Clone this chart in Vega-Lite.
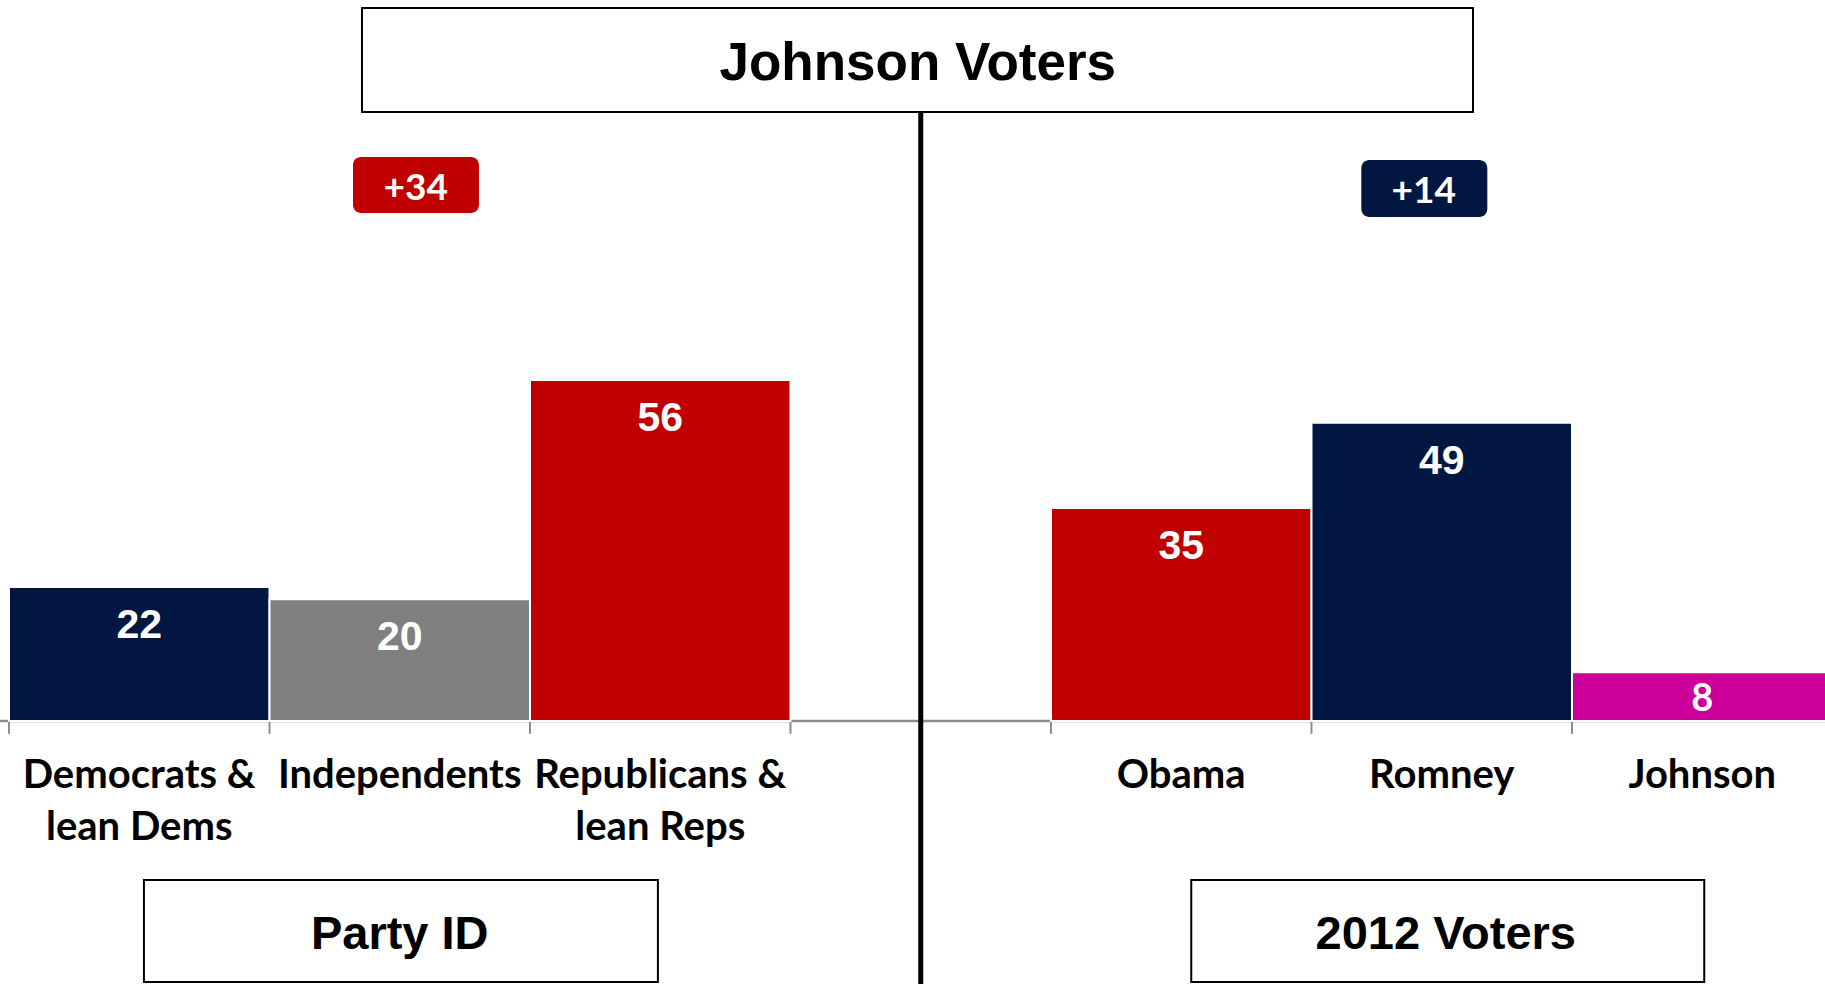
{
  "$schema": "https://vega.github.io/schema/vega-lite/v6.json",
  "width": 1825,
  "height": 984,
  "autosize": {"type": "none"},
  "padding": 0,
  "background": "white",
  "config": {"view": {"stroke": null}},
  "datasets": {
    "bars": [
      {"cat": "Democrats &\nlean Dems", "value": 22},
      {"cat": "Independents", "value": 20},
      {"cat": "Republicans &\nlean Reps", "value": 56},
      {"cat": "Obama", "value": 35},
      {"cat": "Romney", "value": 49},
      {"cat": "Johnson", "value": 8}
    ],
    "one": [{"k": 1}]
  },
  "data": {"name": "bars"},
  "layer": [
    {
      "data": {"name": "one"},
      "mark": {"type": "rule", "color": "#8c8c8c", "strokeWidth": 2.5},
      "encoding": {
        "y": {"datum": 0, "type": "quantitative", "axis": null, "scale": {"domain": [-43.2, 118.43], "nice": false, "zero": false}}
      }
    },
    {
      "mark": {"type": "rule", "color": "#8c8c8c", "strokeWidth": 2},
      "encoding": {
        "x": {"field": "cat", "type": "nominal", "bandPosition": 0, "axis": null, "scale": {"domain": ["Democrats &\nlean Dems", "Independents", "Republicans &\nlean Reps", " ", "Obama", "Romney", "Johnson"], "range": [9, 1832.5], "paddingInner": 0, "paddingOuter": 0}},
        "y": {"datum": 0, "type": "quantitative", "axis": null, "scale": {"domain": [-43.2, 118.43], "nice": false, "zero": false}},
        "y2": {"datum": -2.1}
      }
    },
    {
      "data": {"name": "one"},
      "mark": {"type": "rule", "color": "#8c8c8c", "strokeWidth": 2},
      "encoding": {
        "x": {"datum": " ", "type": "nominal", "bandPosition": 0, "axis": null, "scale": {"domain": ["Democrats &\nlean Dems", "Independents", "Republicans &\nlean Reps", " ", "Obama", "Romney", "Johnson"], "range": [9, 1832.5], "paddingInner": 0, "paddingOuter": 0}},
        "y": {"datum": 0, "type": "quantitative", "axis": null, "scale": {"domain": [-43.2, 118.43], "nice": false, "zero": false}},
        "y2": {"datum": -2.1}
      }
    },
    {
      "mark": {"type": "bar", "stroke": "white", "strokeWidth": 2, "clip": true},
      "encoding": {
        "x": {"field": "cat", "type": "nominal", "axis": null, "scale": {"domain": ["Democrats &\nlean Dems", "Independents", "Republicans &\nlean Reps", " ", "Obama", "Romney", "Johnson"], "range": [9, 1832.5], "paddingInner": 0, "paddingOuter": 0}},
        "y": {"field": "value", "type": "quantitative", "axis": null, "scale": {"domain": [-43.2, 118.43], "nice": false, "zero": false}},
        "y2": {"datum": 0},
        "color": {"field": "cat", "type": "nominal", "legend": null, "scale": {"domain": ["Democrats &\nlean Dems", "Independents", "Republicans &\nlean Reps", "Obama", "Romney", "Johnson"], "range": ["#011640", "#808080", "#C00000", "#C00000", "#011640", "#CC0099"]}}
      }
    },
    {
      "transform": [{"filter": "datum.value >= 10"}],
      "mark": {"type": "text", "font": "Liberation Sans", "fontWeight": "bold", "fontSize": 41, "color": "white", "baseline": "alphabetic", "align": "center", "dy": 51},
      "encoding": {
        "x": {"field": "cat", "type": "nominal"},
        "y": {"field": "value", "type": "quantitative"},
        "text": {"field": "value", "type": "quantitative"}
      }
    },
    {
      "transform": [{"filter": "datum.value < 10"}],
      "mark": {"type": "text", "font": "Lato", "fontWeight": "bold", "fontSize": 38, "color": "white", "baseline": "alphabetic", "align": "center", "dy": 39},
      "encoding": {
        "x": {"field": "cat", "type": "nominal"},
        "y": {"field": "value", "type": "quantitative"},
        "text": {"field": "value", "type": "quantitative"}
      }
    },
    {
      "mark": {"type": "text", "font": "Lato", "fontWeight": "bold", "fontSize": 40, "color": "black", "baseline": "alphabetic", "align": "center", "dy": 67, "lineBreak": "\n", "lineHeight": 52},
      "encoding": {
        "x": {"field": "cat", "type": "nominal"},
        "y": {"datum": 0, "type": "quantitative"},
        "text": {"field": "cat", "type": "nominal"}
      }
    },
    {
      "data": {"name": "one"},
      "mark": {"type": "rule", "color": "black", "strokeWidth": 5},
      "encoding": {
        "x": {"datum": " ", "type": "nominal"},
        "y": {"datum": 100.03, "type": "quantitative"},
        "y2": {"datum": -43.2}
      }
    },
    {
      "data": {"name": "one"},
      "mark": {"type": "rect", "fill": "white", "stroke": "black", "strokeWidth": 2},
      "encoding": {
        "x": {"datum": "Independents", "type": "nominal", "bandPosition": 0.355},
        "x2": {"datum": "Romney", "bandPosition": 0.62},
        "y": {"datum": 117.12, "type": "quantitative"},
        "y2": {"datum": 100.03}
      }
    },
    {
      "data": {"name": "one"},
      "mark": {"type": "text", "text": "Johnson Voters", "font": "Liberation Sans", "fontWeight": "bold", "fontSize": 53, "color": "black", "baseline": "alphabetic", "align": "center", "dx": -3},
      "encoding": {
        "x": {"datum": " ", "type": "nominal"},
        "y": {"datum": 105.26, "type": "quantitative"}
      }
    },
    {
      "data": {"name": "one"},
      "mark": {"type": "rect", "fill": "white", "stroke": "black", "strokeWidth": 2},
      "encoding": {
        "x": {"datum": "Democrats &\nlean Dems", "type": "nominal", "bandPosition": 0.518},
        "x2": {"datum": "Republicans &\nlean Reps", "bandPosition": 0.491},
        "y": {"datum": -26.12, "type": "quantitative"},
        "y2": {"datum": -42.87}
      }
    },
    {
      "data": {"name": "one"},
      "mark": {"type": "text", "text": "Party ID", "font": "Liberation Sans", "fontWeight": "bold", "fontSize": 47, "color": "black", "baseline": "alphabetic", "align": "center"},
      "encoding": {
        "x": {"datum": "Independents", "type": "nominal"},
        "y": {"datum": -37.45, "type": "quantitative"}
      }
    },
    {
      "data": {"name": "one"},
      "mark": {"type": "rect", "fill": "white", "stroke": "black", "strokeWidth": 2},
      "encoding": {
        "x": {"datum": "Obama", "type": "nominal", "bandPosition": 0.5384},
        "x2": {"datum": "Johnson", "bandPosition": 0.5077},
        "y": {"datum": -26.12, "type": "quantitative"},
        "y2": {"datum": -42.87}
      }
    },
    {
      "data": {"name": "one"},
      "mark": {"type": "text", "text": "2012 Voters", "font": "Liberation Sans", "fontWeight": "bold", "fontSize": 47, "color": "black", "baseline": "alphabetic", "align": "center", "dx": 4},
      "encoding": {
        "x": {"datum": "Romney", "type": "nominal"},
        "y": {"datum": -37.45, "type": "quantitative"}
      }
    },
    {
      "data": {"name": "one"},
      "mark": {"type": "rect", "fill": "#C00000", "cornerRadius": 8},
      "encoding": {
        "x": {"datum": "Independents", "type": "nominal", "bandPosition": 0.3205},
        "x2": {"datum": "Independents", "bandPosition": 0.804},
        "y": {"datum": 92.64, "type": "quantitative"},
        "y2": {"datum": 83.44}
      }
    },
    {
      "data": {"name": "one"},
      "mark": {"type": "text", "text": "+34", "font": "Lato", "fontWeight": "bold", "fontSize": 37, "color": "white", "baseline": "alphabetic", "align": "center", "dx": 16},
      "encoding": {
        "x": {"datum": "Independents", "type": "nominal"},
        "y": {"datum": 85.58, "type": "quantitative"}
      }
    },
    {
      "data": {"name": "one"},
      "mark": {"type": "rect", "fill": "#011640", "cornerRadius": 8},
      "encoding": {
        "x": {"datum": "Romney", "type": "nominal", "bandPosition": 0.1912},
        "x2": {"datum": "Romney", "bandPosition": 0.6749},
        "y": {"datum": 92.15, "type": "quantitative"},
        "y2": {"datum": 82.79}
      }
    },
    {
      "data": {"name": "one"},
      "mark": {"type": "text", "text": "+14", "font": "Lato", "fontWeight": "bold", "fontSize": 37, "color": "white", "baseline": "alphabetic", "align": "center", "dx": -18},
      "encoding": {
        "x": {"datum": "Romney", "type": "nominal"},
        "y": {"datum": 85.04, "type": "quantitative"}
      }
    }
  ]
}
